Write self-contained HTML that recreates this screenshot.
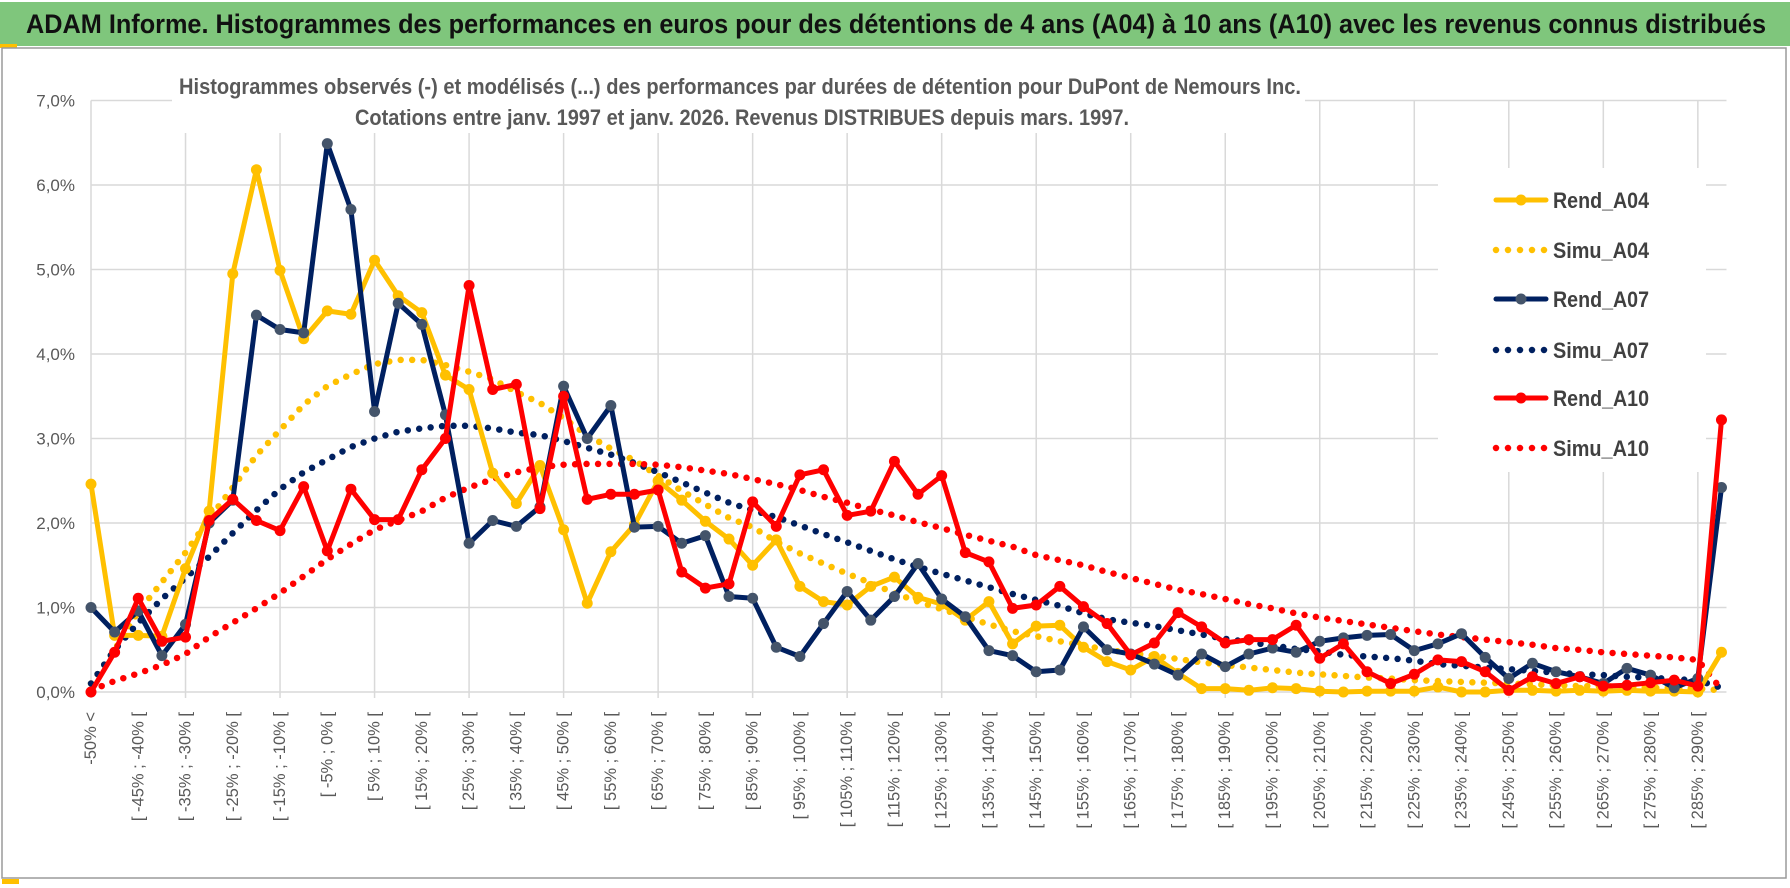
<!DOCTYPE html>
<html><head><meta charset="utf-8"><style>
html,body{margin:0;padding:0;background:#fff;}
svg{display:block;font-family:"Liberation Sans",sans-serif;}
</style></head><body>
<svg id="chart" width="1790" height="888" viewBox="0 0 1790 888" xmlns="http://www.w3.org/2000/svg">
<rect x="0" y="0" width="1790" height="888" fill="#fff"/>
<rect x="0" y="2" width="1790" height="44" fill="#7fc67c"/>
<text x="26" y="33" font-size="27" font-weight="bold" fill="#111" textLength="1740" lengthAdjust="spacingAndGlyphs">ADAM Informe. Histogrammes des performances en euros pour des détentions de 4 ans (A04) à 10 ans (A10) avec les revenus connus distribués</text>
<rect x="0" y="44" width="17" height="4" fill="#FFC000"/>
<rect x="2" y="48" width="1784" height="830" fill="none" stroke="#9a9a9a" stroke-width="1.5"/>
<rect x="2" y="879" width="17" height="5" fill="#FFC000"/>
<g id="grid"></g>
<rect x="172" y="62" width="1133" height="71" fill="#fff"/>
<text x="740" y="94" font-size="22" font-weight="bold" fill="#595959" text-anchor="middle" textLength="1122" lengthAdjust="spacingAndGlyphs">Histogrammes observés (-) et modélisés (...) des performances par durées de détention pour DuPont de Nemours Inc.</text>
<text x="742" y="125" font-size="22" font-weight="bold" fill="#595959" text-anchor="middle" textLength="774" lengthAdjust="spacingAndGlyphs">Cotations entre janv. 1997 et janv. 2026. Revenus DISTRIBUES depuis mars. 1997.</text>
<g id="yaxis"></g>
<g id="xaxis"></g>
<g id="series"></g>
<g id="legend"></g>
</svg>
<script>
const rendA04 = [2.46,0.67,0.67,0.66,1.46,2.14,4.95,6.18,4.99,4.18,4.51,4.47,5.11,4.69,4.49,3.75,3.58,2.59,2.23,2.68,1.92,1.05,1.66,1.98,2.5,2.27,2.02,1.81,1.5,1.8,1.25,1.07,1.03,1.25,1.36,1.12,1.04,0.85,1.07,0.57,0.78,0.79,0.53,0.36,0.26,0.42,0.22,0.04,0.04,0.02,0.05,0.04,0.01,0.0,0.01,0.01,0.01,0.06,0.0,0.0,0.02,0.02,0.01,0.02,0.01,0.02,0.01,0.01,0.0,0.47];
const simuA04 = [0.1,0.5,0.95,1.3,1.65,2.05,2.42,2.8,3.1,3.4,3.62,3.76,3.88,3.93,3.93,3.87,3.79,3.7,3.55,3.42,3.24,3.04,2.88,2.74,2.56,2.38,2.22,2.06,1.95,1.78,1.64,1.52,1.4,1.29,1.17,1.07,0.98,0.89,0.8,0.72,0.66,0.6,0.55,0.5,0.46,0.43,0.39,0.35,0.32,0.29,0.26,0.23,0.21,0.19,0.17,0.16,0.14,0.13,0.12,0.11,0.1,0.09,0.08,0.07,0.07,0.06,0.05,0.05,0.04,0.02];
const rendA07 = [1.0,0.71,0.96,0.43,0.8,2.0,2.27,4.46,4.29,4.25,6.49,5.71,3.32,4.6,4.35,3.28,1.76,2.03,1.96,2.19,3.62,3.0,3.39,1.95,1.96,1.76,1.85,1.13,1.11,0.53,0.42,0.81,1.19,0.85,1.13,1.52,1.1,0.89,0.49,0.43,0.24,0.26,0.77,0.5,0.45,0.33,0.2,0.45,0.3,0.45,0.52,0.47,0.6,0.64,0.67,0.68,0.49,0.57,0.69,0.41,0.16,0.34,0.24,0.18,0.1,0.28,0.2,0.05,0.16,2.42];
const simuA07 = [0.1,0.5,0.82,1.1,1.35,1.6,1.88,2.15,2.4,2.6,2.75,2.9,3.0,3.08,3.12,3.15,3.15,3.12,3.07,3.04,2.97,2.89,2.81,2.71,2.6,2.48,2.36,2.24,2.15,2.07,1.97,1.87,1.77,1.67,1.57,1.48,1.4,1.32,1.24,1.16,1.09,1.02,0.93,0.86,0.82,0.78,0.73,0.68,0.63,0.59,0.55,0.51,0.48,0.44,0.42,0.4,0.37,0.33,0.31,0.29,0.27,0.25,0.23,0.21,0.2,0.18,0.17,0.15,0.14,0.05];
const rendA10 = [0,0.47,1.11,0.6,0.65,2.03,2.28,2.03,1.91,2.43,1.67,2.4,2.04,2.04,2.63,3.0,4.81,3.58,3.64,2.17,3.5,2.28,2.34,2.34,2.39,1.42,1.23,1.28,2.25,1.96,2.57,2.63,2.09,2.14,2.73,2.34,2.56,1.65,1.54,0.99,1.03,1.25,1.01,0.81,0.44,0.58,0.94,0.77,0.58,0.62,0.62,0.79,0.4,0.57,0.24,0.1,0.21,0.38,0.36,0.24,0.02,0.18,0.1,0.18,0.07,0.08,0.11,0.14,0.07,3.22];
const simuA10 = [0.02,0.13,0.22,0.32,0.45,0.65,0.82,0.99,1.17,1.37,1.57,1.75,1.92,2.03,2.14,2.3,2.42,2.52,2.6,2.66,2.69,2.7,2.7,2.7,2.69,2.66,2.62,2.58,2.52,2.46,2.39,2.31,2.24,2.16,2.09,2.01,1.94,1.86,1.79,1.72,1.62,1.56,1.5,1.42,1.35,1.28,1.21,1.16,1.1,1.04,0.99,0.93,0.88,0.84,0.8,0.76,0.72,0.68,0.65,0.62,0.59,0.56,0.52,0.5,0.47,0.45,0.43,0.41,0.38,0.03];
const yTicks = [0,1,2,3,4,5,6,7];
const seriesNames = ["Rend_A04","Simu_A04","Rend_A07","Simu_A07","Rend_A10","Simu_A10"];
const categories = ["-50% <"];
for (let k = 1; k < 70; k++) { const a = -50 + 5 * (k - 1); categories.push("[ " + a + "% ; " + (a + 5) + "% ["); }

const NS = "http://www.w3.org/2000/svg";
const X0 = 91, STEP = 23.63, Y0 = 692, PER = 84.5;
function xs(i){ return X0 + STEP * i; }
function ys(v){ return Y0 - PER * v; }
function mk(tag, attrs, parent){ const e = document.createElementNS(NS, tag); for (const k in attrs) e.setAttribute(k, attrs[k]); parent.appendChild(e); return e; }

const grid = document.getElementById('grid');
const plotRight = xs(categories.length - 1) + 5;
yTicks.forEach(t => {
  const l = mk('line', {x1: X0, x2: plotRight, y1: ys(t), y2: ys(t), stroke: '#d9d9d9', 'stroke-width': 1.5}, grid);
  
  
});
for (let i = 0; i < categories.length; i += 4) {
  const l = mk('line', {x1: xs(i), x2: xs(i), y1: ys(7), y2: Y0 + 6, stroke: '#d9d9d9', 'stroke-width': 1.5}, grid);
  
  
}

const yax = document.getElementById('yaxis');
yTicks.forEach(t => {
  const tx = mk('text', {x: 75, y: ys(t) + 6, 'font-size': 17, fill: '#595959', 'text-anchor': 'end'}, yax);
  tx.textContent = t.toFixed(1).replace('.', ',') + '%';
  
  
});

const xax = document.getElementById('xaxis');
categories.forEach((c, i) => {
  if (i % 2) return;
  const x = xs(i), y = 712;
  const tx = mk('text', {x: x, y: y, 'font-size': 16.5, fill: '#595959', 'text-anchor': 'end', 'dominant-baseline': 'central', transform: 'rotate(-90 ' + x + ' ' + y + ')'}, xax);
  tx.textContent = c;
  
  
});

const ser = document.getElementById('series');
const styles = [
  {data: simuA04, color: '#FFC000', dotted: true},
  {data: simuA07, color: '#002060', dotted: true},
  {data: simuA10, color: '#FF0000', dotted: true},
  {data: rendA04, color: '#FFC000', marker: '#FFC000'},
  {data: rendA07, color: '#002060', marker: '#44546A'},
  {data: rendA10, color: '#FF0000', marker: '#FF0000'}
];
const styleNames = ['simu-a04-line','simu-a07-line','simu-a10-line','rend-a04-line','rend-a07-line','rend-a10-line'];
styles.forEach((s, si) => {
  const pts = s.data.map((v, i) => xs(i).toFixed(1) + ',' + ys(v).toFixed(1)).join(' ');
  const attrs = {points: pts, fill: 'none', stroke: s.color, 'stroke-linejoin': 'round', 'stroke-linecap': 'round'};
  if (s.dotted) { attrs['stroke-width'] = 6.5; attrs['stroke-dasharray'] = '0 11.5'; }
  else { attrs['stroke-width'] = 5; }
  const pl = mk('polyline', attrs, ser);
  
  
  if (s.marker) {
    s.data.forEach((v, i) => {
      const c = mk('circle', {cx: xs(i), cy: ys(v), r: 5.5, fill: s.marker}, ser);
      
      
    });
  }
});

const leg = document.getElementById('legend');
mk('rect', {x: 1438, y: 168, width: 268, height: 304, fill: '#fff'}, leg);
const legY = [200, 250, 299, 350, 398, 448];
const legColors = ['#FFC000','#FFC000','#002060','#002060','#FF0000','#FF0000'];
const legMarkers = ['#FFC000', null, '#44546A', null, '#FF0000', null];
seriesNames.forEach((n, i) => {
  const y = legY[i];
  if (legMarkers[i]) {
    mk('line', {x1: 1496, x2: 1546, y1: y, y2: y, stroke: legColors[i], 'stroke-width': 5, 'stroke-linecap': 'round'}, leg);
    mk('circle', {cx: 1521, cy: y, r: 5.5, fill: legMarkers[i]}, leg);
  } else {
    mk('line', {x1: 1496, x2: 1546, y1: y, y2: y, stroke: legColors[i], 'stroke-width': 6.5, 'stroke-linecap': 'round', 'stroke-dasharray': '0 12'}, leg);
  }
  const t = mk('text', {x: 1553, y: y + 8, 'font-size': 22, 'font-weight': 'bold', fill: '#404040', textLength: 96, lengthAdjust: 'spacingAndGlyphs'}, leg);
  t.textContent = n;
  
  
});
</script>
</body></html>
